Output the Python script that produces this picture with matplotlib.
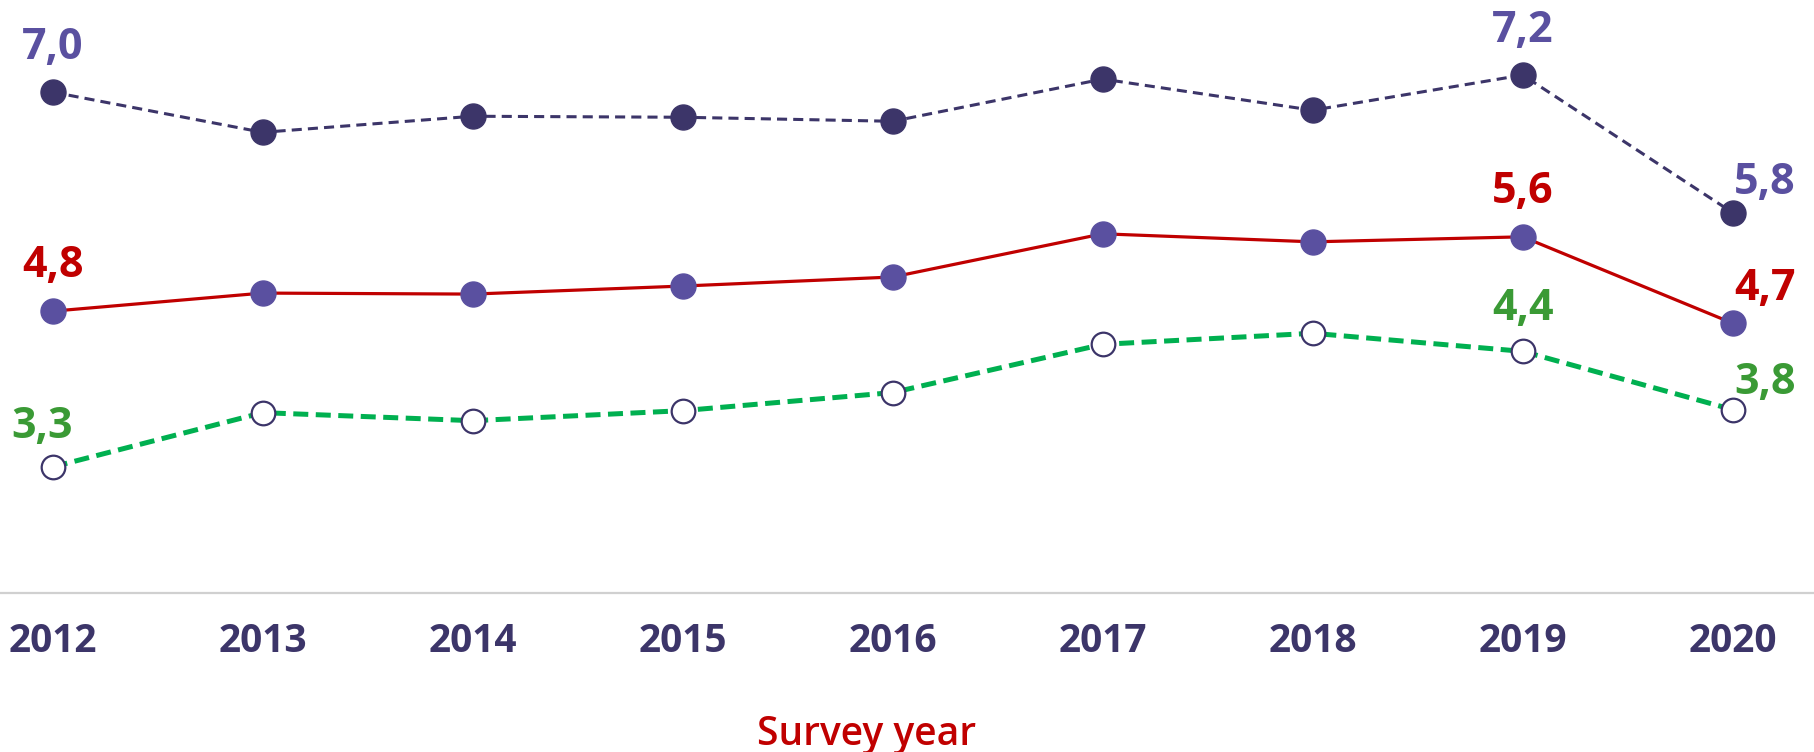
import matplotlib
matplotlib.use("Agg")
import matplotlib.pyplot as plt

plt.rcParams['font.family'] = ['Open Sans', 'DejaVu Sans']

years = ["2012", "2013", "2014", "2015", "2016", "2017", "2018", "2019", "2020"]
series_top = [7.02, 6.62, 6.78, 6.77, 6.73, 7.15, 6.84, 7.19, 5.82]
series_mid = [4.84, 5.02, 5.01, 5.09, 5.18, 5.61, 5.53, 5.58, 4.72]
series_bot = [3.29, 3.83, 3.75, 3.85, 4.03, 4.51, 4.62, 4.44, 3.86]
labels_top = {0: "7,0", 7: "7,2", 8: "5,8"}
labels_mid = {0: "4,8", 7: "5,6", 8: "4,7"}
labels_bot = {0: "3,3", 7: "4,4", 8: "3,8"}
x_title = "Survey year"

NAVY = "#3C3569"
PURPLE = "#5A50A0"
RED = "#C00000"
GREEN_LINE = "#00B050"
GREEN_TXT = "#3A9A35"

W, H = 1814, 752
fig = plt.figure(figsize=(W / 100, H / 100), dpi=100)
ax_bottom_px = 593
ax = fig.add_axes([0, (H - ax_bottom_px) / H, 1, ax_bottom_px / H])

x = list(range(len(years)))

ax.plot(x, series_top, color=NAVY, lw=2.2, dashes=(3.3, 2.0),
        marker='o', ms=18, mfc=NAVY, mec=NAVY, zorder=3)
ax.plot(x, series_mid, color=RED, lw=2.3,
        marker='o', ms=18, mfc=PURPLE, mec=PURPLE, zorder=3)
ax.plot(x, series_bot, color=GREEN_LINE, lw=3.6, dashes=(3.0, 1.5),
        marker='o', ms=17, mfc='white', mec=NAVY, mew=1.6, zorder=3)

px_per_year = 210.0
ax.set_xlim(-52.7 / px_per_year, 8 + (W - 1732.7) / px_per_year)
ax.set_ylim(2.035, 7.937)

def put_labels(vals, labs, color, offsets):
    for i, t in labs.items():
        dx, dy = offsets[i]
        ax.annotate(t, (x[i], vals[i]), xytext=(dx, dy), textcoords='offset pixels',
                    ha='center', va='baseline', color=color, fontsize=31,
                    fontweight='bold', zorder=4)

put_labels(series_top, labels_top, PURPLE, {0: (0, 33), 7: (0, 33), 8: (32, 19)})
put_labels(series_mid, labels_mid, RED, {0: (0, 34), 7: (0, 34), 8: (32, 23)})
put_labels(series_bot, labels_bot, GREEN_TXT, {0: (-11, 29), 7: (0, 31), 8: (32, 16)})

for s in ['top', 'left', 'right']:
    ax.spines[s].set_visible(False)
ax.spines['bottom'].set_color('#D0D0D0')
ax.spines['bottom'].set_linewidth(1.6)
ax.set_yticks([])
ax.set_xticks(x)
ax.set_xticklabels(years, fontsize=28, fontweight='bold', color=NAVY)
ax.tick_params(axis='x', length=0, pad=42.5)
for lab in ax.get_xticklabels():
    lab.set_verticalalignment('baseline')

ax.set_xlabel(x_title, fontsize=28, color=RED, fontweight='semibold')
ax.xaxis.set_label_coords(867 / W, (ax_bottom_px - 745) / ax_bottom_px)
ax.xaxis.label.set_verticalalignment('baseline')
ax.patch.set_alpha(0)

fig.savefig("out.png", dpi=100)
